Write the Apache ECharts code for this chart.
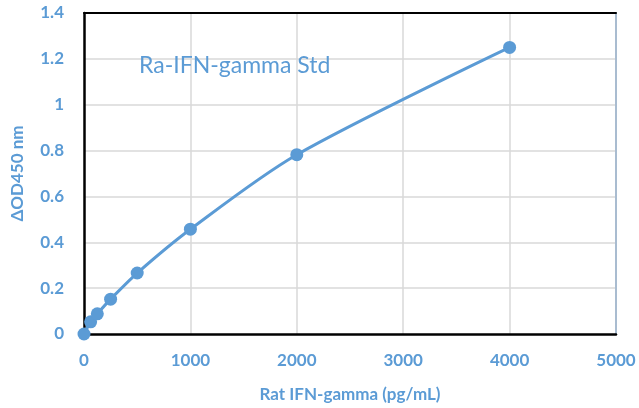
<!DOCTYPE html>
<html><head><meta charset="utf-8">
<script src="https://cdn.jsdelivr.net/npm/echarts@6/dist/echarts.min.js"></script>
<style>html,body{margin:0;padding:0;background:#fff}#c{width:639px;height:408px}</style>
</head><body><div id="c"></div>
<script>
const concentrations = [0, 62.5, 125, 250, 500, 1000, 2000, 4000];
const odValues = [0, 0.053, 0.088, 0.152, 0.266, 0.457, 0.782, 1.25];
const chartTitle = 'Ra-IFN-gamma Std';
const xName = 'Rat IFN-gamma (pg/mL)';
const yName = '\u0394OD450 nm';
const blue = '#5B9BD5';
const font = 'Lato, "Open Sans", sans-serif';
const chart = echarts.init(document.getElementById('c'));
chart.setOption({
  animation: false,
  backgroundColor: '#fff',
  title: { text: chartTitle, left: 134, top: 49,
    textStyle: { color: blue, fontSize: 23, fontWeight: 'normal', fontFamily: font } },
  grid: { left: 84, right: 23, top: 13, bottom: 74, outerBoundsMode: 'none', containLabel: false },
  xAxis: [{
    type: 'value', min: 0, max: 5000, interval: 1000,
    name: xName, nameLocation: 'middle', nameGap: 52,
    nameTextStyle: { color: blue, fontSize: 17, fontWeight: 'bold', fontFamily: font },
    axisLine: { show: true, onZero: false, lineStyle: { color: '#000000', width: 2.5 } },
    axisTick: { show: false },
    axisLabel: { color: blue, fontSize: 17, fontWeight: 'bold', fontFamily: font, margin: 18,
      formatter: v => String(v) },
    splitLine: { show: true, showMinLine: false, showMaxLine: false, lineStyle: { color: '#d9d9d9', width: 1.5 } }
  }, {
    type: 'value', position: 'top', min: 0, max: 5000, interval: 1000,
    axisLine: { show: true, onZero: false, lineStyle: { color: '#000000', width: 2 } },
    axisTick: { show: false }, axisLabel: { show: false }, splitLine: { show: false }
  }],
  yAxis: [{
    type: 'value', min: 0, max: 1.4, interval: 0.2,
    name: yName, nameLocation: 'middle', nameGap: 58,
    nameTextStyle: { color: blue, fontSize: 17, fontWeight: 'bold', fontFamily: font },
    axisLine: { show: true, onZero: false, lineStyle: { color: '#000000', width: 2.5 } },
    axisTick: { show: false },
    axisLabel: { color: blue, fontSize: 17, fontWeight: 'bold', fontFamily: font, margin: 20,
      formatter: v => String(Math.round(v * 10) / 10) },
    splitLine: { show: true, showMinLine: false, showMaxLine: false, lineStyle: { color: '#d9d9d9', width: 1.5 } }
  }, {
    type: 'value', position: 'right', min: 0, max: 1.4, interval: 0.2,
    axisLine: { show: true, onZero: false, lineStyle: { color: '#a9bcd0', width: 2 } },
    axisTick: { show: false }, axisLabel: { show: false }, splitLine: { show: false }
  }],
  series: [{
    type: 'line', smooth: 0.3,
    data: concentrations.map((x, i) => [x, odValues[i]]),
    symbol: 'circle', symbolSize: 13,
    itemStyle: { color: blue },
    lineStyle: { color: blue, width: 3 }
  }]
});
</script></body></html>
